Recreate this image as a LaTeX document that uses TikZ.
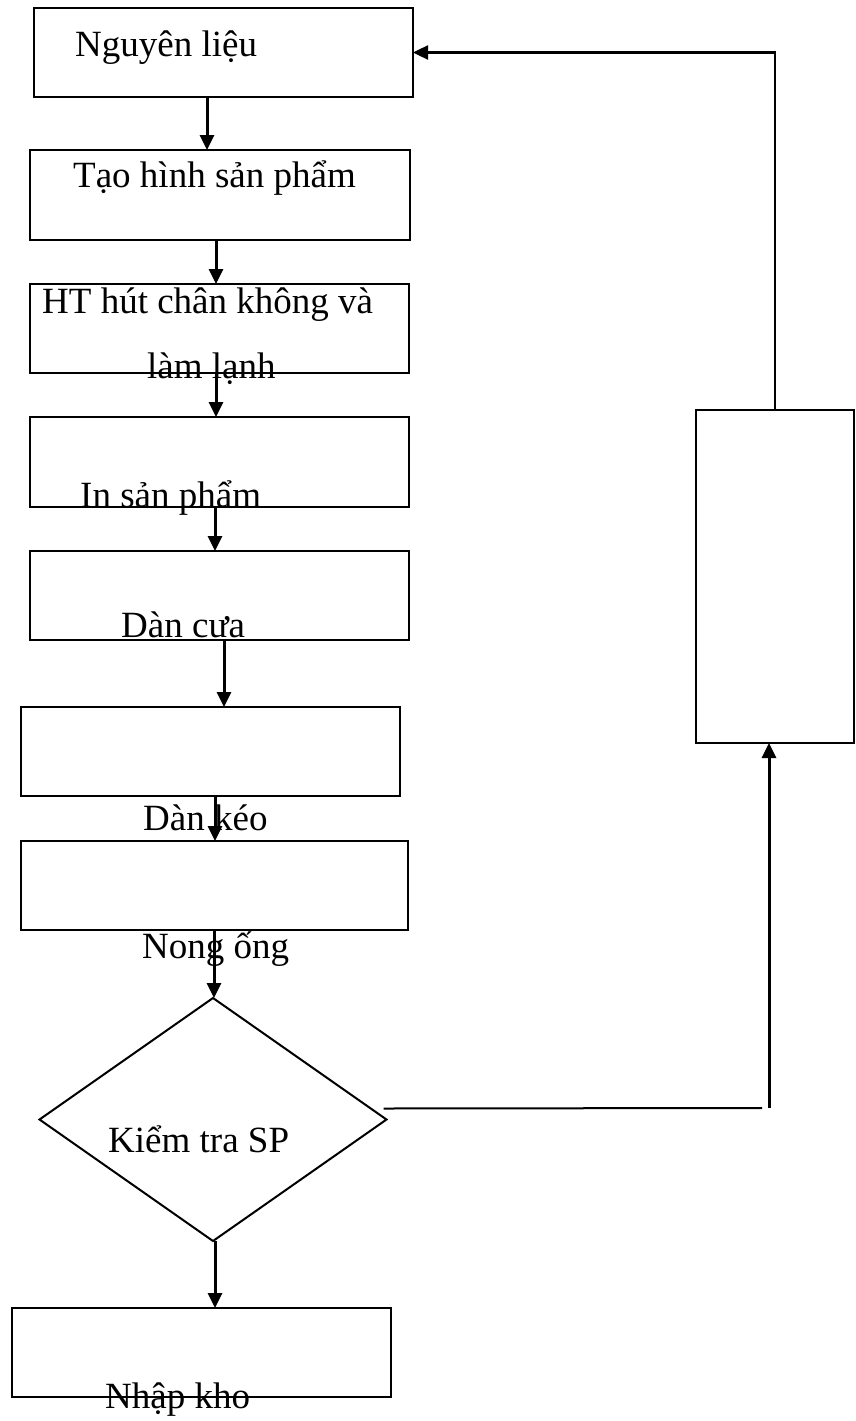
\documentclass[tikz,border=0pt]{standalone}
\usepackage{fontspec}
\setmainfont{Liberation Serif}
\usetikzlibrary{arrows.meta,shapes.geometric}
\begin{document}
\begin{tikzpicture}[x=1pt,y=-1pt,
  box/.style={draw,rectangle,line width=2pt,inner sep=0pt,outer sep=0pt},
  lbl/.style={inner sep=0pt,anchor=base west,font=\fontsize{37}{44}\selectfont},
  arr/.style={line width=3pt,-{Triangle[length=15pt,width=14pt]}},
  fb/.style={line width=2pt},
  fbarr/.style={line width=2.4pt,-{Triangle[length=15pt,width=14pt]}}]
\useasboundingbox (0,0) rectangle (856,1421);
\node[box,minimum width=379pt,minimum height=89pt] (b1) at (223.5,52.5) {};
\node[box,minimum width=380pt,minimum height=90pt] (b2) at (220,195) {};
\node[box,minimum width=379pt,minimum height=89pt] (b3) at (219.5,328.5) {};
\node[box,minimum width=379pt,minimum height=90pt] (b4) at (219.5,462) {};
\node[box,minimum width=379pt,minimum height=89pt] (b5) at (219.5,595.5) {};
\node[box,minimum width=379pt,minimum height=89pt] (b6) at (210.5,751.5) {};
\node[box,minimum width=387pt,minimum height=89pt] (b7) at (214.5,885.5) {};
\node[draw,diamond,line width=2pt,inner sep=0pt,outer sep=0pt,minimum width=347pt,minimum height=243pt] (d) at (213,1119.5) {};
\node[box,minimum width=379pt,minimum height=89pt] (b9) at (201.5,1352.5) {};
\node[box,minimum width=158pt,minimum height=333pt] (r) at (775,576.5) {};

\node[lbl] (t1) at (75,57) {Nguyên liệu};
\node[lbl] (t2) at (73,187) {Tạo hình sản phẩm};
\node[lbl] (t3) at (42,313) {HT hút chân không và};
\node[lbl] (t3b) at (147,378) {làm lạnh};
\node[lbl] (t4) at (80,507) {In sản phẩm};
\node[lbl] (t5) at (121,637) {Dàn cưa};
\node[lbl] (t6) at (143,830) {Dàn kéo};
\node[lbl] (t7) at (142,958) {Nong ống};
\node[lbl] (t8) at (108,1152) {Kiểm tra SP};
\node[lbl] (t9) at (105,1408) {Nhập kho};

\draw[arr] (b1.south -| 207,0) -- (b2.north -| 207,0);
\draw[arr] (b2.south -| 216,0) -- (b3.north -| 216,0);
\draw[arr] (b3.south -| 216,0) -- (b4.north -| 216,0);
\draw[arr] (b4.south -| 215,0) -- (b5.north -| 215,0);
\draw[arr] (b5.south -| 224,0) -- (b6.north -| 224,0);
\draw[arr] (b6.south -| 215,0) -- (b7.north -| 215,0);
\draw[arr] (b7.south -| 214,0) -- (d.north -| 214,0);
\draw[arr] (d.south -| 215,0) -- (b9.north -| 215,0);

\draw[fbarr] (r.north) |- (b1.east);
\coordinate (j) at (769,1108);
\draw[fb] ([xshift=-3pt,yshift=11pt]d.east) -- ([xshift=-7pt]j);
\draw[arr] (j) -- (r.south -| j);
\end{tikzpicture}
\end{document}
